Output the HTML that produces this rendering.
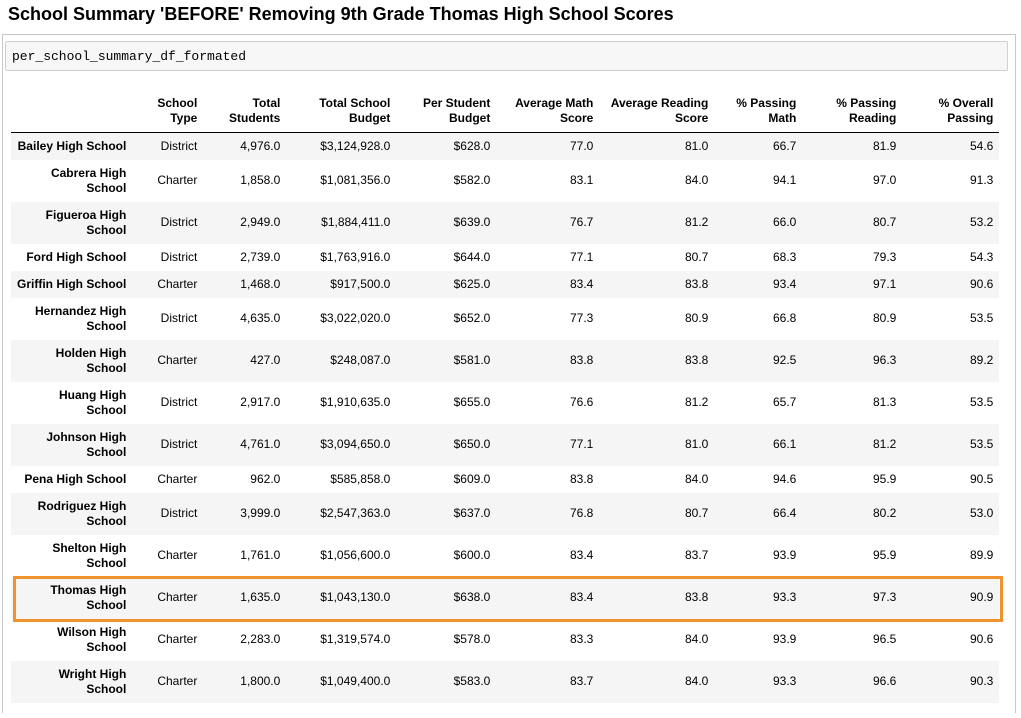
<!DOCTYPE html>
<html><head><meta charset="utf-8">
<style>
html,body{margin:0;padding:0;background:#fff;width:1021px;height:718px;overflow:hidden;font-family:"Liberation Sans",Arial,sans-serif;}
#title{position:absolute;left:8px;top:4px;font-size:18px;font-weight:bold;color:#000;white-space:nowrap;}
#outer{position:absolute;left:2px;top:34px;width:1012px;height:678px;border:1px solid #c8c8c8;border-bottom:none;}
#code{position:absolute;left:5px;top:41px;width:1001px;height:28px;border:1px solid #cfcfcf;background:#f7f7f7;border-radius:2px;}
#code span{position:absolute;left:6px;top:7px;font-family:"Liberation Mono",monospace;font-size:13px;color:#000;}
table{position:absolute;left:11px;top:86px;border-collapse:collapse;font-size:12px;color:#000;}
th,td{text-align:right;padding:0 6px;vertical-align:middle;line-height:15px;}
thead th{height:40px;vertical-align:bottom;padding-bottom:6px;border-bottom:1px solid #000;}
tbody tr:nth-child(odd){background:#f5f5f5;}
tbody th{font-weight:bold;}
tr.s{height:27px;} tr.s th{white-space:nowrap;} tr.d{height:42px;}
#hl{position:absolute;left:13px;top:576px;width:984px;height:40px;border:3px solid #f0922e;}
</style></head><body>
<div id="title">School Summary 'BEFORE' Removing 9th Grade Thomas High School Scores</div>
<div id="outer"></div>
<div id="code"><span>per_school_summary_df_formated</span></div>
<table>
<colgroup><col style="width:121px"><col style="width:71px"><col style="width:83px"><col style="width:110px"><col style="width:100px"><col style="width:103px"><col style="width:115px"><col style="width:88px"><col style="width:100px"><col style="width:97px"></colgroup>
<thead><tr><th></th><th>School<br>Type</th><th>Total<br>Students</th><th>Total School<br>Budget</th><th>Per Student<br>Budget</th><th>Average Math<br>Score</th><th>Average Reading<br>Score</th><th>% Passing<br>Math</th><th>% Passing<br>Reading</th><th>% Overall<br>Passing</th></tr></thead>
<tbody>
<tr class="s"><th>Bailey High School</th><td>District</td><td>4,976.0</td><td>$3,124,928.0</td><td>$628.0</td><td>77.0</td><td>81.0</td><td>66.7</td><td>81.9</td><td>54.6</td></tr>
<tr class="d"><th>Cabrera High<br>School</th><td>Charter</td><td>1,858.0</td><td>$1,081,356.0</td><td>$582.0</td><td>83.1</td><td>84.0</td><td>94.1</td><td>97.0</td><td>91.3</td></tr>
<tr class="d"><th>Figueroa High<br>School</th><td>District</td><td>2,949.0</td><td>$1,884,411.0</td><td>$639.0</td><td>76.7</td><td>81.2</td><td>66.0</td><td>80.7</td><td>53.2</td></tr>
<tr class="s"><th>Ford High School</th><td>District</td><td>2,739.0</td><td>$1,763,916.0</td><td>$644.0</td><td>77.1</td><td>80.7</td><td>68.3</td><td>79.3</td><td>54.3</td></tr>
<tr class="s"><th>Griffin High School</th><td>Charter</td><td>1,468.0</td><td>$917,500.0</td><td>$625.0</td><td>83.4</td><td>83.8</td><td>93.4</td><td>97.1</td><td>90.6</td></tr>
<tr class="d"><th>Hernandez High<br>School</th><td>District</td><td>4,635.0</td><td>$3,022,020.0</td><td>$652.0</td><td>77.3</td><td>80.9</td><td>66.8</td><td>80.9</td><td>53.5</td></tr>
<tr class="d"><th>Holden High<br>School</th><td>Charter</td><td>427.0</td><td>$248,087.0</td><td>$581.0</td><td>83.8</td><td>83.8</td><td>92.5</td><td>96.3</td><td>89.2</td></tr>
<tr class="d"><th>Huang High<br>School</th><td>District</td><td>2,917.0</td><td>$1,910,635.0</td><td>$655.0</td><td>76.6</td><td>81.2</td><td>65.7</td><td>81.3</td><td>53.5</td></tr>
<tr class="d"><th>Johnson High<br>School</th><td>District</td><td>4,761.0</td><td>$3,094,650.0</td><td>$650.0</td><td>77.1</td><td>81.0</td><td>66.1</td><td>81.2</td><td>53.5</td></tr>
<tr class="s"><th>Pena High School</th><td>Charter</td><td>962.0</td><td>$585,858.0</td><td>$609.0</td><td>83.8</td><td>84.0</td><td>94.6</td><td>95.9</td><td>90.5</td></tr>
<tr class="d"><th>Rodriguez High<br>School</th><td>District</td><td>3,999.0</td><td>$2,547,363.0</td><td>$637.0</td><td>76.8</td><td>80.7</td><td>66.4</td><td>80.2</td><td>53.0</td></tr>
<tr class="d"><th>Shelton High<br>School</th><td>Charter</td><td>1,761.0</td><td>$1,056,600.0</td><td>$600.0</td><td>83.4</td><td>83.7</td><td>93.9</td><td>95.9</td><td>89.9</td></tr>
<tr class="d"><th>Thomas High<br>School</th><td>Charter</td><td>1,635.0</td><td>$1,043,130.0</td><td>$638.0</td><td>83.4</td><td>83.8</td><td>93.3</td><td>97.3</td><td>90.9</td></tr>
<tr class="d"><th>Wilson High<br>School</th><td>Charter</td><td>2,283.0</td><td>$1,319,574.0</td><td>$578.0</td><td>83.3</td><td>84.0</td><td>93.9</td><td>96.5</td><td>90.6</td></tr>
<tr class="d"><th>Wright High<br>School</th><td>Charter</td><td>1,800.0</td><td>$1,049,400.0</td><td>$583.0</td><td>83.7</td><td>84.0</td><td>93.3</td><td>96.6</td><td>90.3</td></tr>
</tbody></table>
<div id="hl"></div>
</body></html>
